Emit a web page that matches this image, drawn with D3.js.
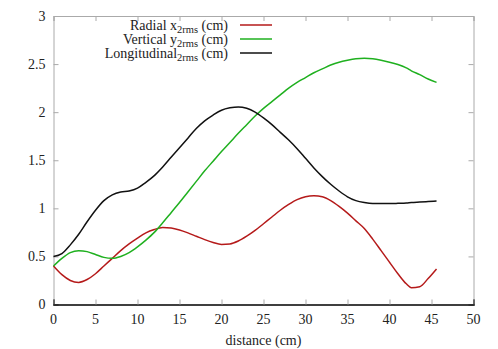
<!DOCTYPE html>
<html>
<head>
<meta charset="utf-8">
<script src="https://cdn.jsdelivr.net/npm/d3@7"></script>
<style>
  body { margin: 0; background: #fff; }
</style>
</head>
<body>
<div id="graph"></div>
<script>
const distance = [0,1,2,3,4,5,6,7,8,9,10,11,12,13,14,15,16,17,18,19,20,21,22,23,24,25,26,27,28,29,30,31,32,33,34,35,36,37,38,39,40,41,42,42.6,43.6,44.6,45.6];
const radial = [0.40,0.31,0.25,0.23,0.26,0.32,0.40,0.48,0.56,0.63,0.69,0.745,0.78,0.80,0.795,0.775,0.745,0.71,0.675,0.645,0.625,0.63,0.66,0.71,0.77,0.84,0.91,0.98,1.04,1.09,1.12,1.13,1.12,1.08,1.02,0.95,0.87,0.79,0.68,0.56,0.44,0.32,0.215,0.175,0.185,0.27,0.37];
const vertical = [0.40,0.48,0.54,0.56,0.55,0.52,0.49,0.48,0.50,0.54,0.60,0.67,0.75,0.85,0.955,1.06,1.17,1.28,1.39,1.49,1.59,1.685,1.78,1.87,1.96,2.04,2.11,2.18,2.25,2.31,2.36,2.41,2.45,2.49,2.52,2.54,2.555,2.56,2.555,2.54,2.52,2.495,2.46,2.43,2.39,2.345,2.31];
const longitudinal = [0.50,0.53,0.62,0.73,0.86,0.98,1.08,1.14,1.17,1.18,1.21,1.27,1.34,1.43,1.53,1.63,1.73,1.83,1.91,1.97,2.02,2.045,2.055,2.04,2.0,1.94,1.87,1.79,1.71,1.62,1.52,1.42,1.33,1.25,1.18,1.12,1.08,1.06,1.05,1.05,1.05,1.052,1.055,1.06,1.065,1.07,1.075];
const xTicks = [0,5,10,15,20,25,30,35,40,45,50];
const yTicks = [0,0.5,1,1.5,2,2.5,3];
const yTickLabels = ["0","0.5","1","1.5","2","2.5","3"];

const fullwidth = 498, fullheight = 349;
const padLeft = 53.5, padTop = 16, padRight = 473.5, padBottom = 304.5;
const serif = "'Liberation Serif', monospace";

const xScale = d3.scaleLinear().domain([0, 50]).range([padLeft, padRight]);
const yScale = d3.scaleLinear().domain([0, 3]).range([padBottom, padTop]);

const svg = d3.select("#graph").append("svg")
  .attr("width", fullwidth).attr("height", fullheight)
  .style("font-family", serif);

// frame with mirrored ticks
const gray = "#aaa";
svg.append("g").attr("transform", "translate(" + padLeft + ",0)")
  .call(d3.axisLeft(yScale).tickValues(yTicks).tickSize(-5).tickFormat(""))
  .call(g => g.selectAll("line, path").attr("stroke", gray));
svg.append("g").attr("transform", "translate(" + padRight + ",0)")
  .call(d3.axisRight(yScale).tickValues(yTicks).tickSize(-5).tickFormat(""))
  .call(g => g.selectAll("line, path").attr("stroke", gray));
svg.append("g").attr("transform", "translate(0," + padTop + ")")
  .call(d3.axisTop(xScale).tickValues(xTicks).tickSize(-5).tickFormat(""))
  .call(g => g.selectAll("line, path").attr("stroke", gray));
svg.append("g").attr("transform", "translate(0," + padBottom + ")")
  .call(d3.axisBottom(xScale).tickValues(xTicks).tickSize(-5).tickFormat(""))
  .call(g => g.selectAll("line").attr("stroke", gray))
  .call(g => g.select("path").attr("stroke", "#000").attr("stroke-width", 1.6));

// tick labels
const label = sel => sel.style("font-family", serif).attr("fill", "#222").attr("font-size", 14);
svg.selectAll(".ylab").data(yTicks).enter().append("text")
  .call(label)
  .attr("x", padLeft - 8).attr("y", d => yScale(d)).attr("dy", "0.35em")
  .attr("text-anchor", "end")
  .text((d, i) => yTickLabels[i]);
svg.selectAll(".xlab").data(xTicks).enter().append("text")
  .call(label)
  .attr("x", d => xScale(d)).attr("y", padBottom + 19)
  .attr("text-anchor", "middle")
  .text(d => d);
svg.append("text").call(label).attr("x", (padLeft + padRight) / 2).attr("y", 345)
  .attr("text-anchor", "middle").text("distance (cm)");

const series = [
  { name: "Radial x", sub: "2rms", after: " (cm)", values: radial, color: "#b51a1a" },
  { name: "Vertical y", sub: "2rms", after: " (cm)", values: vertical, color: "#1fb01f" },
  { name: "Longitudinal", sub: "2rms", after: " (cm)", values: longitudinal, color: "#111" }
];

const line = d3.line().curve(d3.curveMonotoneX)
  .x((d, i) => xScale(distance[i])).y(d => yScale(d));

series.forEach(function (s, k) {
  svg.append("path").attr("d", line(s.values))
    .attr("fill", "none").attr("stroke", s.color).attr("stroke-width", 1.5);

  const ly = 25 + k * 14;
  const t = svg.append("text").call(label).attr("x", 228).attr("y", ly + 4.5)
    .attr("text-anchor", "end");
  t.append("tspan").text(s.name);
  t.append("tspan").attr("dy", 3).attr("font-size", 10.5).text(s.sub);
  t.append("tspan").attr("dy", -3).text(s.after);
  svg.append("line").attr("x1", 240).attr("x2", 272).attr("y1", ly).attr("y2", ly)
    .attr("stroke", s.color).attr("stroke-width", 1.5);
});
</script>
</body>
</html>
